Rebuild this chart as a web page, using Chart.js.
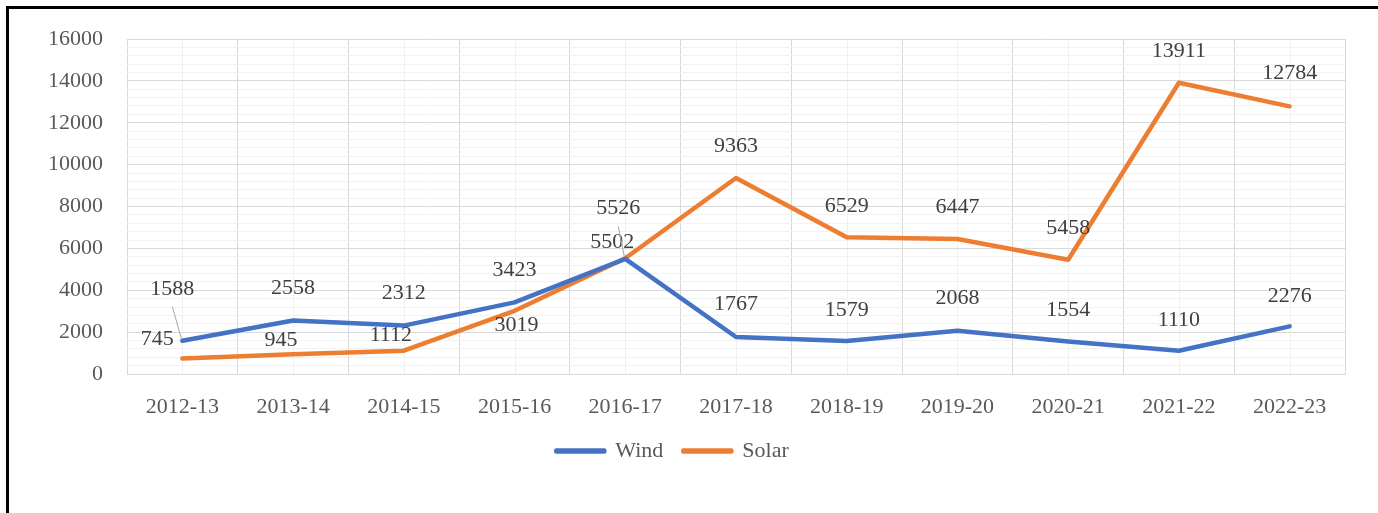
<!DOCTYPE html>
<html>
<head>
<meta charset="utf-8">
<script src="https://cdn.jsdelivr.net/npm/chart.js@4"></script>
<style>
  body { margin: 0; background: #fff; }
  #wrap { position: relative; width: 1378px; height: 513px; overflow: hidden; }
  #frame { position: absolute; left: 6px; top: 6px; width: 1500px; height: 600px;
           border-left: 3px solid #000; border-top: 3px solid #000; }
  canvas { position: absolute; left: 0; top: 0; }
</style>
</head>
<body>
<div id="wrap">
  <canvas id="grafico" width="1378" height="513"></canvas>
  <div id="frame"></div>
</div>
<script>
const anos = ['2012-13', '2013-14', '2014-15', '2015-16', '2016-17', '2017-18', '2018-19', '2019-20', '2020-21', '2021-22', '2022-23'];
const eolica = [1588, 2558, 2312, 3423, 5502, 1767, 1579, 2068, 1554, 1110, 2276]; // Wind
const solar = [745, 945, 1112, 3019, 5526, 9363, 6529, 6447, 5458, 13911, 12784]; // Solar
const yMax = 16000;

// deslocamento dos rotulos (px) - igual ao que o Excel fez
const rotuloPos = {
    0: { dx: [-10, 0, 0, 0, -13, 0, 0, 0, 0, 0, 0], dy: [-52, -32, -32, -32, -17, -33, -31, -32, -31, -31, -30] },
    1: { dx: [-25, -12, -13, 2, -7, 0, 0, 0, 0, 0, 0], dy: [-19, -14, -15, 14, -50, -32, -31, -32, -32, -32, -33] }
};

const fonte = "'Liberation Serif', 'Times New Roman', serif";

// linhas verticais menores no centro de cada categoria
const gradeMenor = {
    id: 'gradeMenor',
    beforeDraw(chart) {
        const { ctx, chartArea, scales } = chart;
        ctx.save();
        ctx.strokeStyle = '#f0f0f0';
        ctx.lineWidth = 1;
        anos.forEach((a, i) => {
            const x = Math.round(scales.x.getPixelForValue(i)) + 0.5;
            ctx.beginPath();
            ctx.moveTo(x, chartArea.top);
            ctx.lineTo(x, chartArea.bottom);
            ctx.stroke();
        });
        ctx.restore();
    }
};

// rotulos de dados
const rotulos = {
    id: 'rotulos',
    afterDatasetsDraw(chart) {
        const ctx = chart.ctx;
        ctx.save();
        ctx.font = '22px ' + fonte;
        ctx.fillStyle = '#404040';
        ctx.textAlign = 'center';
        ctx.textBaseline = 'middle';
        chart.data.datasets.forEach((ds, d) => {
            const meta = chart.getDatasetMeta(d);
            meta.data.forEach((pt, i) => {
                const lx = pt.x + rotuloPos[d].dx[i];
                const ly = pt.y + rotuloPos[d].dy[i];
                if (rotuloPos[d].dy[i] < -40) {
                    // linha de chamada
                    ctx.strokeStyle = '#a6a6a6';
                    ctx.lineWidth = 1;
                    ctx.beginPath();
                    ctx.moveTo(lx, ly + 18);
                    ctx.lineTo(pt.x - 1, pt.y - 2);
                    ctx.stroke();
                }
                ctx.fillText(ds.data[i], lx, ly);
            });
        });
        ctx.restore();
    }
};

const ctx = document.getElementById('grafico').getContext('2d');
const grafico = new Chart(ctx, {
    type: 'line',
    data: {
        labels: anos,
        datasets: [
            {
                label: 'Wind',
                data: eolica,
                borderColor: '#4472C4',
                backgroundColor: '#4472C4',
                borderWidth: 4.5,
                borderCapStyle: 'round',
                borderJoinStyle: 'round',
                pointRadius: 0,
                tension: 0
            },
            {
                label: 'Solar',
                data: solar,
                borderColor: '#ED7D31',
                backgroundColor: '#ED7D31',
                borderWidth: 4.5,
                borderCapStyle: 'round',
                borderJoinStyle: 'round',
                pointRadius: 0,
                tension: 0
            }
        ]
    },
    options: {
        responsive: false,
        animation: false,
        layout: { padding: { top: 39, right: 33, bottom: 41, left: 0 } },
        scales: {
            x: {
                offset: true,
                grid: { offset: true, color: '#d9d9d9', drawTicks: false },
                border: { color: '#d9d9d9' },
                ticks: { color: '#595959', font: { family: fonte, size: 22 }, padding: 20, maxRotation: 0, autoSkip: false },
                afterFit(s) { s.height = 46; }
            },
            y: {
                min: 0,
                max: yMax,
                grid: {
                    drawTicks: false,
                    color: c => (c.tick && c.tick.value % 2000 === 0) ? '#d9d9d9' : '#f2f2f2'
                },
                border: { display: false },
                ticks: {
                    stepSize: 400,
                    autoSkip: false,
                    color: '#595959',
                    font: { family: fonte, size: 22 },
                    padding: 24,
                    callback: v => (v % 2000 === 0 ? v : '')
                },
                afterFit(s) { s.width = 127; }
            }
        },
        plugins: {
            legend: {
                display: true,
                position: 'bottom',
                labels: {
                    color: '#595959',
                    font: { family: fonte, size: 22 },
                    boxWidth: 48,
                    boxHeight: 1,
                    padding: 20
                }
            },
            tooltip: { enabled: false }
        }
    },
    plugins: [gradeMenor, rotulos]
});
</script>
</body>
</html>
